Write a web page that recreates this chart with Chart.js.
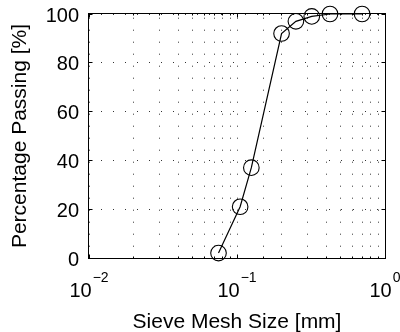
<!DOCTYPE html>
<html>
<head>
<meta charset="utf-8">
<script src="https://cdn.jsdelivr.net/npm/chart.js@4/dist/chart.umd.min.js"></script>
<style>
  html, body { margin: 0; padding: 0; background: #fff; }
  #wrap { width: 400px; height: 332px; }
</style>
</head>
<body>
<div id="wrap"><canvas id="c" width="400" height="332"></canvas></div>
<script>
// Grain size distribution: sieve opening vs. cumulative percentage passing
const sieveSizes = [0.075, 0.105, 0.125, 0.2, 0.25, 0.32, 0.425, 0.7];   // mm
const percentPassing = [2, 21, 37, 92, 97, 99, 100, 100];               // %
const xDecades = [-2, -1, 0];                                            // labels 10^-2 .. 10^0
const yTickStep = 20;

const FONT = '"Liberation Sans", Arial, Helvetica, sans-serif';
const GRID = 'rgba(0,0,0,0.8)';

// Box frame, inward tick marks and power-of-ten labels for the log axis
const framePlugin = {
  id: 'boxFrame',
  afterDraw(chart) {
    const { ctx, chartArea: a, scales: { x, y } } = chart;
    const align = p => Math.round(p - 0.5) + 0.5;
    const L = Math.round(a.left) - 0.5, R = Math.round(a.right) + 0.5;
    const T = Math.round(a.top) - 0.5, B = Math.round(a.bottom) + 0.5;

    ctx.save();
    ctx.strokeStyle = '#000';
    ctx.lineWidth = 1;
    ctx.setLineDash([]);
    ctx.beginPath();
    // x ticks (bottom and top)
    x.ticks.forEach(t => {
      const lg = Math.log10(t.value);
      const major = Math.abs(lg - Math.round(lg)) < 1e-6;
      const len = major ? 4 : 2;
      const px = align(x.getPixelForValue(t.value));
      ctx.moveTo(px, B); ctx.lineTo(px, B - len);
      ctx.moveTo(px, T); ctx.lineTo(px, T + len);
    });
    // y ticks (left and right)
    y.ticks.forEach(t => {
      const py = align(y.getPixelForValue(t.value));
      ctx.moveTo(L, py); ctx.lineTo(L + 4, py);
      ctx.moveTo(R, py); ctx.lineTo(R - 4, py);
    });
    ctx.stroke();
    ctx.strokeRect(L, T, R - L, B - T);

    // 10^n tick labels
    ctx.fillStyle = '#000';
    ctx.textAlign = 'left';
    ctx.textBaseline = 'alphabetic';
    xDecades.forEach(d => {
      const px = x.getPixelForValue(Math.pow(10, d));
      const base = '10';
      const exp = d < 0 ? '\u2212' + Math.abs(d) : String(d);
      ctx.font = '20px ' + FONT;
      const w1 = ctx.measureText(base).width;
      ctx.font = '14px ' + FONT;
      const w2 = ctx.measureText(exp).width;
      const gap = 1;
      const start = px - (w1 + gap + w2) / 2;
      ctx.font = '20px ' + FONT;
      ctx.fillText(base, start, 297);
      ctx.font = '14px ' + FONT;
      ctx.fillText(exp, start + w1 + gap, 282);
    });
    ctx.restore();
  }
};

new Chart(document.getElementById('c'), {
  type: 'line',
  data: {
    datasets: [{
      data: sieveSizes.map((s, i) => ({ x: s, y: percentPassing[i] })),
      borderColor: '#000',
      borderWidth: 1.2,
      tension: 0,
      fill: false,
      clip: false,
      pointStyle: 'circle',
      pointRadius: 7.8,
      pointHoverRadius: 7.8,
      pointBorderWidth: 1.1,
      pointBorderColor: '#000',
      pointBackgroundColor: 'rgba(0,0,0,0)'
    }]
  },
  options: {
    responsive: false,
    animation: false,
    devicePixelRatio: 1,
    events: [],
    layout: { padding: { left: 0, right: 15, top: 14, bottom: 0 } },
    plugins: { legend: { display: false }, tooltip: { enabled: false } },
    scales: {
      x: {
        type: 'logarithmic',
        position: 'bottom',
        min: 0.01,
        max: 1,
        ticks: { display: false },
        grid: { color: GRID, lineWidth: 1, drawTicks: false },
        border: { display: false, dash: [1, 11], dashOffset: 8.3 },
        title: {
          display: true,
          text: 'Sieve Mesh Size [mm]',
          color: '#000',
          font: { family: FONT, size: 21 },
          padding: { top: 0, bottom: -3 }
        },
        afterFit(scale) { scale.height = 74; }
      },
      y: {
        type: 'linear',
        position: 'left',
        min: 0,
        max: 100,
        ticks: {
          stepSize: yTickStep,
          color: '#000',
          font: { family: FONT, size: 20 },
          padding: 1,
          labelOffset: 2
        },
        grid: {
          color: GRID,
          lineWidth: 1,
          drawTicks: true,
          tickLength: 9,
          tickColor: 'rgba(0,0,0,0)'
        },
        border: { display: false, dash: [1, 11], dashOffset: 0 },
        title: {
          display: true,
          text: 'Percentage Passing [%]',
          color: '#000',
          font: { family: FONT, size: 21 },
          padding: { top: 7.6, bottom: 0 }
        },
        afterFit(scale) { scale.width = 89; }
      }
    }
  },
  plugins: [framePlugin]
});
</script>
</body>
</html>
